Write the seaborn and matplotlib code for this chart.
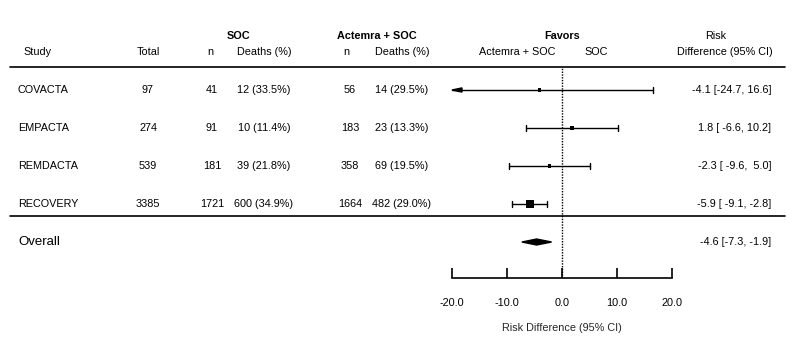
import matplotlib
matplotlib.use("Agg")
import matplotlib.pyplot as plt
import matplotlib.transforms as mtransforms
import seaborn as sns
import pandas as pd

# -----------------------------
# Data
# -----------------------------
studies = ["COVACTA", "EMPACTA", "REMDACTA", "RECOVERY"]
total = [97, 274, 539, 3385]
soc_n = [41, 91, 181, 1721]
soc_deaths = ["12 (33.5%)", "10 (11.4%)", "39 (21.8%)", "600 (34.9%)"]
act_n = [56, 183, 358, 1664]
act_deaths = ["14 (29.5%)", "23 (13.3%)", "69 (19.5%)", "482 (29.0%)"]
rd_est = [-4.1, 1.8, -2.3, -5.9]
rd_lo = [-24.7, -6.6, -9.6, -9.1]
rd_hi = [16.6, 10.2, 5.0, -2.8]
overall_est, overall_lo, overall_hi = -4.6, -7.3, -1.9
x_ticks = [-20, -10, 0, 10, 20]

# -----------------------------
# Style / layout
# -----------------------------
sns.set_theme(style="white")
plt.rcParams["font.family"] = ["Liberation Sans", "DejaVu Sans"]
FS = 7.8
W, H = 794, 353
box_px = [3.5, 4, 3.5, 8]          # square side in pixels


def px(x):
    return x / W


fig = plt.figure(figsize=(W / 100, H / 100), dpi=100)
# forest panel: -20..20 spans pixels 452..672, rows from y=67 to y=278
ax = fig.add_axes([px(452), (H - 278) / H, px(220), (278 - 67) / H])
ax.set_xlim(-20, 20)
n_rows = len(studies) + 1
ax.set_ylim(n_rows - 1 + 0.947, -0.605)
trans = mtransforms.blended_transform_factory(fig.transFigure, ax.transData)

rows = list(range(len(studies)))
overall_row = len(studies)

# reference line
ax.axvline(0, color="black", ls=(0, (1, 1)), lw=1)

# confidence intervals
cap = 3 / 38
for r, lo, hi in zip(rows, rd_lo, rd_hi):
    left = max(lo, -20)
    ax.plot([left, hi], [r, r], color="black", lw=1, clip_on=False)
    ax.plot([hi, hi], [r - cap, r + cap], color="black", lw=1, clip_on=False)
    if lo < -20:
        ax.fill([-20, -20 + 10 / 5.5, -20 + 10 / 5.5],
                [r, r - 0.055, r + 0.055], color="black", clip_on=False)
    else:
        ax.plot([lo, lo], [r - cap, r + cap], color="black", lw=1, clip_on=False)

# study estimates (squares)
df = pd.DataFrame({"study": studies, "est": rd_est, "row": rows})
sizes = {s: (b * 0.72) ** 2 for s, b in zip(studies, box_px)}
sns.scatterplot(data=df, x="est", y="row", size="study", sizes=sizes,
                marker="s", color="black", edgecolor="black", linewidth=0,
                legend=False, ax=ax, clip_on=False)

# overall diamond
dh = 3 / 38
ax.fill([overall_lo, overall_est, overall_hi, overall_est],
        [overall_row, overall_row - dh, overall_row, overall_row + dh],
        color="black", clip_on=False)

# axis
for side in ["left", "top", "right"]:
    ax.spines[side].set_visible(False)
ax.spines["bottom"].set_bounds(-20, 20)
ax.spines["bottom"].set_linewidth(1.2)
ax.spines["bottom"].set_color("black")
ax.set_xticks(x_ticks)
ax.set_xticklabels([f"{t:.1f}" for t in x_ticks], fontsize=FS)
ax.set_yticks([])
ax.tick_params(axis="x", direction="in", length=7, width=1.2, pad=14.5,
               bottom=True, colors="black")
ax.set_xlabel("Risk Difference (95% CI)", fontsize=FS, labelpad=10.5)
ax.set_ylabel("")

# -----------------------------
# Table text
# -----------------------------
y_top, y_sub = -1.42, -1.0


def txt(x, y, s, ha="center", **kw):
    ax.text(px(x), y, s, ha=ha, va="center", fontsize=kw.pop("fontsize", FS),
            transform=trans, color="black", **kw)


txt(239, y_top, "SOC", fontweight="bold")
txt(377, y_top, "Actemra + SOC", fontweight="bold")
txt(562, y_top, "Favors", fontweight="bold")
txt(716, y_top, "Risk")
txt(23, y_sub, "Study", ha="left")
txt(148, y_sub, "Total")
txt(210, y_sub, "n")
txt(264, y_sub, "Deaths (%)")
txt(346, y_sub, "n")
txt(402, y_sub, "Deaths (%)")
txt(517, y_sub, "Actemra + SOC")
txt(596, y_sub, "SOC")
txt(773, y_sub, "Difference (95% CI)", ha="right")

for r in rows:
    txt(18, r, studies[r], ha="left")
    txt(148, r, str(total[r]))
    txt(212, r, str(soc_n[r]))
    txt(264, r, soc_deaths[r])
    txt(350, r, str(act_n[r]))
    txt(402, r, act_deaths[r])
    txt(771, r, f"{rd_est[r]:.1f} [{rd_lo[r]:5.1f},{rd_hi[r]:5.1f}]", ha="right")

txt(18, overall_row, "Overall", ha="left", fontsize=9.5)
txt(771, overall_row, f"{overall_est:.1f} [{overall_lo:.1f}, {overall_hi:.1f}]",
    ha="right")

# separator lines
for y in [-0.605, (215.5 - 90) / 38]:
    ax.plot([px(10), px(785)], [y, y], color="black", lw=1.2,
            transform=trans, clip_on=False)

fig.savefig("out.png", dpi=100, facecolor="white")
